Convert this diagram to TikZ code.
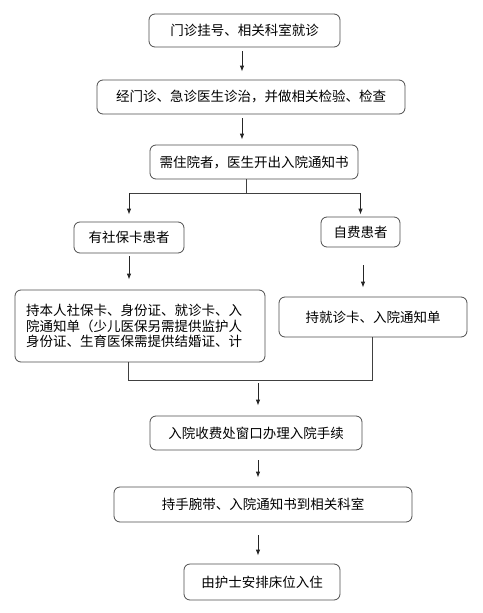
\documentclass[tikz,border=0pt]{standalone}
\usepackage{fontspec}
\newfontfamily\cjk{Noto Sans CJK SC}
\usetikzlibrary{arrows.meta}

\tikzset{
  stepbox/.style={draw=black!70, rounded corners=6pt, line width=0.8pt, align=center, inner sep=2pt},
  flow/.style={draw=black!85, line width=0.8pt, -{Latex[length=6pt,width=4.5pt]}},
  link/.style={draw=black!75, line width=0.8pt}
}

\begin{document}
\begin{tikzpicture}[x=1pt, y=-1pt, font=\cjk\fontsize{13.5}{15.5}\selectfont]
    \useasboundingbox (0,0) rectangle (482,613);

    % Boxes
    \node[stepbox, minimum width=191pt, minimum height=33pt] (reg) at (244.5,30.5) {门诊挂号、相关科室就诊};
    \node[stepbox, minimum width=308pt, minimum height=34pt] (exam) at (251,97) {经门诊、急诊医生诊治，并做相关检验、检查};
    \node[stepbox, minimum width=208pt, minimum height=34pt] (notice) at (254,162) {需住院者，医生开出入院通知书};
    \node[stepbox, minimum width=110pt, minimum height=31pt] (insured) at (129,237.5) {有社保卡患者};
    \node[stepbox, minimum width=79pt, minimum height=30pt] (selfpay) at (360.5,232) {自费患者};
    \node[stepbox, minimum width=250pt, minimum height=72pt, text width=228pt, align=left] (docsA) at (140,326)
      {持本人社保卡、身份证、就诊卡、入\\院通知单（少儿医保另需提供监护人\\身份证、生育医保需提供结婚证、计};
    \node[stepbox, minimum width=188pt, minimum height=40pt] (docsB) at (373,317) {持就诊卡、入院通知单};
    \node[stepbox, minimum width=212pt, minimum height=34pt] (admit) at (256,433) {入院收费处窗口办理入院手续};
    \node[stepbox, minimum width=298pt, minimum height=35pt] (ward) at (263,504.5) {持手腕带、入院通知书到相关科室};
    \node[stepbox, minimum width=156pt, minimum height=36pt] (bed) at (262,582) {由护士安排床位入住};

    % Junction points
    \coordinate (split) at (246,193);
    \coordinate (merge) at (258,380);

    % Main column
    \draw[flow, shorten <=4pt, shorten >=8pt] (reg.south -| 242,0) -- (exam.north -| 242,0);
    \draw[flow, shorten <=4pt, shorten >=5pt] (exam.south -| 242,0) -- (notice.north -| 242,0);

    % Split into two branches
    \draw[link] (notice.south -| split) -- (split);
    \draw[link] (split -| insured) -- (split -| selfpay);
    \draw[flow, shorten >=7pt] (split -| insured) -- (insured.north);
    \draw[flow, shorten >=2pt] (split -| selfpay) -- (selfpay.north -| split -| selfpay);
    \draw[flow, shorten <=3pt, shorten >=10pt] (insured.south) -- (docsA.north -| insured);
    \draw[flow, shorten <=18pt, shorten >=9pt] (selfpay.south -| 363,0) -- (docsB.north -| 363,0);

    % Merge
    \draw[link] (docsA.south -| 128,0) |- (merge -| 372,0) -- (docsB.south -| 372,0);
    \draw[flow, shorten <=3pt, shorten >=10pt] (merge) -- (admit.north -| merge);
    \draw[flow, shorten <=10pt, shorten >=9pt] (admit.south -| merge) -- (ward.north -| merge);
    \draw[flow, shorten <=13pt, shorten >=8pt] (ward.south -| merge) -- (bed.north -| merge);

\end{tikzpicture}
\end{document}
